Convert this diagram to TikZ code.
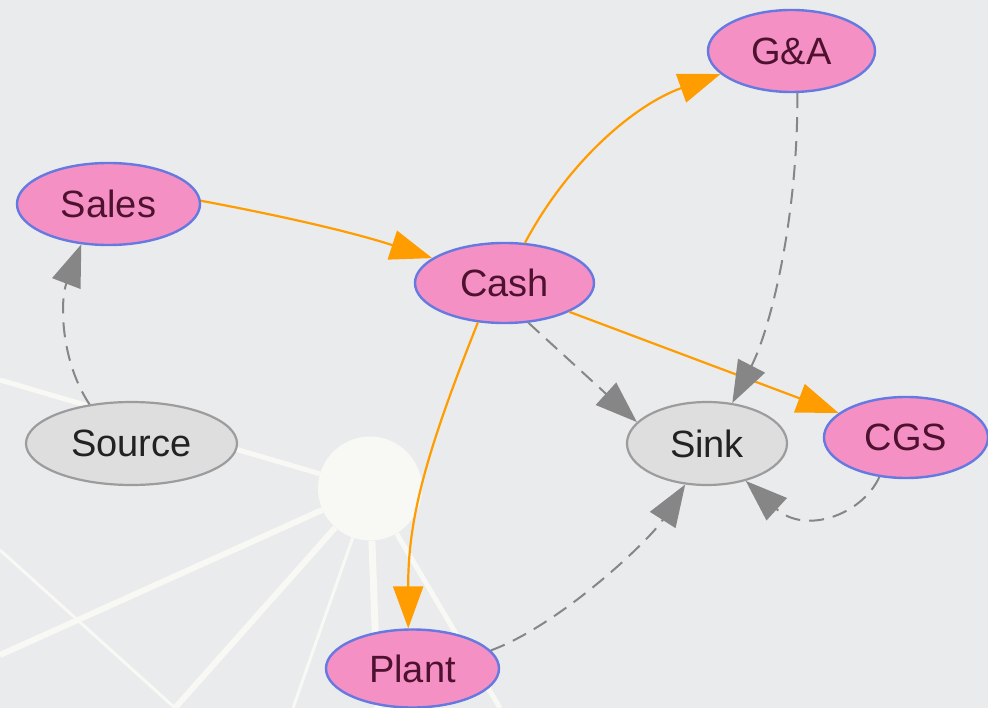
\documentclass[tikz,border=0pt]{standalone}
\usepackage{fontspec}
\setmainfont{Liberation Sans}
\usetikzlibrary{shapes.geometric,arrows.meta}

\definecolor{bg}{HTML}{E9EBED}
\definecolor{nodepink}{HTML}{F590C4}
\definecolor{nodeblue}{HTML}{6679E0}
\definecolor{nodetext}{HTML}{4E1230}
\definecolor{extfill}{HTML}{DEDEDE}
\definecolor{extborder}{HTML}{9C9C9C}
\definecolor{exttext}{HTML}{222222}
\definecolor{flowor}{HTML}{FF9D00}
\definecolor{ctrlgray}{HTML}{868686}
\definecolor{spokewhite}{HTML}{F8F8F4}

\tikzset{
  acct/.style={ellipse, draw=nodeblue, line width=2.4pt, fill=nodepink,
    text=nodetext, inner sep=0pt, font=\fontsize{38}{40}\selectfont},
  ext/.style={ellipse, draw=extborder, line width=2.2pt, fill=extfill,
    text=exttext, inner sep=0pt, font=\fontsize{38}{40}\selectfont},
  flow/.style={draw=flowor, line width=2.2pt,
    -{Triangle[length=42pt,width=30pt,fill=flowor]}},
  ctrl/.style={draw=ctrlgray, line width=2pt, dash pattern=on 15pt off 9pt,
    -{Triangle[length=42pt,width=30pt,fill=ctrlgray]}},
  spoke/.style={draw=spokewhite, line width=#1},
  spoke/.default=5pt
}

\begin{document}
\begin{tikzpicture}[x=1pt,y=-1pt]
  \fill[bg] (0,0) rectangle (988,708);
  \useasboundingbox (0,0) rectangle (988,708);

  % hub with its white spokes (background)
  \node[circle, fill=spokewhite, minimum size=104pt, inner sep=0pt] (hub) at (370,488.5) {};
  \coordinate (w1) at (0,380);
  \coordinate (w2) at (0,655);
  \coordinate (w3a) at (0,550);
  \coordinate (w3b) at (175,708);
  \coordinate (w4) at (175,708);
  \coordinate (w5) at (293,708);
  \coordinate (w6) at (378,708);
  \coordinate (w7) at (500,708);
  \draw[spoke=5pt] (hub) -- (w1);
  \draw[spoke=6pt] (hub) -- (w2);
  \draw[spoke=3pt] (w3a) -- (w3b);
  \draw[spoke=6pt] (hub) -- (w4);
  \draw[spoke=3pt] (hub) -- (w5);
  \draw[spoke=7pt] (hub) -- (w6);
  \draw[spoke=5pt] (hub) -- (w7);

  % accounts
  \node[acct, minimum width=183pt, minimum height=82pt] (sales) at (108.5,204) {Sales};
  \node[acct, minimum width=179pt, minimum height=80pt] (cash) at (504.5,283) {Cash};
  \node[acct, minimum width=167pt, minimum height=82pt] (ga) at (791.5,51) {G\&A};
  \node[acct, minimum width=164pt, minimum height=81pt] (cgs) at (906,437.5) {CGS};
  \node[acct, minimum width=173pt, minimum height=78pt] (plant) at (412.5,668.5) {Plant};
  \node[ext, minimum width=211pt, minimum height=83pt] (source) at (131.5,443.5) {Source};
  \node[ext, minimum width=160pt, minimum height=83pt] (sink) at (707,443.5) {Sink};

  % money flows
  \draw[flow] (sales.2) .. controls (272,214) and (349,231) .. (cash.161);
  \draw[flow] (cash.63) .. controls (568,162) and (634,105) .. (ga.198);
  \draw[flow] (cash.-24) -- (cgs.160);
  \draw[flow] (cash.236) .. controls (425,455) and (408,520) .. (plant.96);

  % dashed links
  \draw[ctrl] (cash.-59) -- (sink.163);
  \draw[ctrl] (ga.-82) .. controls (798,220) and (770,330) .. (sink.58);
  \draw[ctrl] (cgs.236) .. controls (862,515) and (805,535) .. (sink.-44);
  \draw[ctrl] (plant.13) .. controls (560,625) and (650,540) .. (sink.242);
  \draw[ctrl] (source.137) .. controls (60,360) and (60,300) .. (sales.236);
\end{tikzpicture}
\end{document}
